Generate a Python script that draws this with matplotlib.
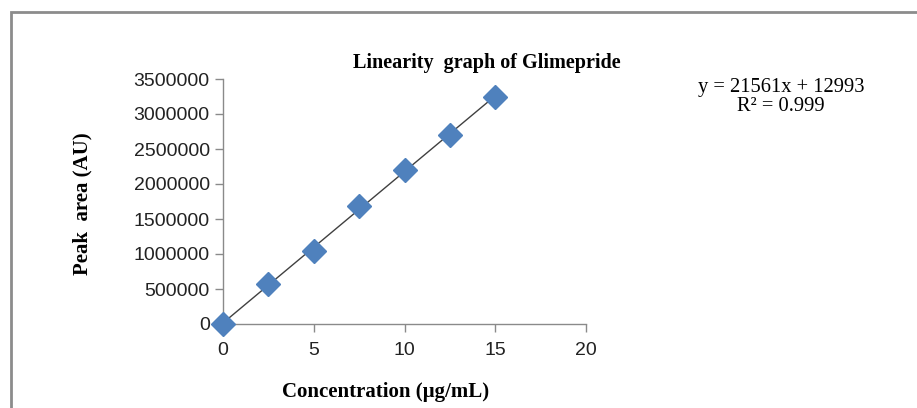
import numpy as np
import matplotlib
matplotlib.use("Agg")
import matplotlib.pyplot as plt
from matplotlib.patches import Rectangle

conc = [0, 2.5, 5, 7.5, 10, 12.5, 15]
peak_area = [0, 575000, 1046000, 1692000, 2201000, 2697000, 3248000]
x_ticks = [0, 5, 10, 15, 20]
y_ticks = [0, 500000, 1000000, 1500000, 2000000, 2500000, 3000000, 3500000]
title = "Linearity  graph of Glimepride"
xlabel = "Concentration (µg/mL)"
ylabel = "Peak  area (AU)"
eq_text = "y = 21561x + 12993\nR² = 0.999"

W, H = 917, 408
fig = plt.figure(figsize=(W / 100, H / 100), dpi=100)
fig.patch.set_facecolor("white")

# outer chart border (only top and left visible)
fig.add_artist(Rectangle((10.5 / W, -0.1), 1.2, (H - 11.5) / H + 0.1,
                         transform=fig.transFigure, fill=False,
                         edgecolor="#8c8c8c", linewidth=2.0))

ax = fig.add_axes([223 / W, (H - 324) / H, (586 - 223) / W, (324 - 79) / H])
ax.set_xlim(0, 20)
ax.set_ylim(0, 3500000)
ax.set_xticks(x_ticks)
ax.set_yticks(y_ticks)
ax.set_xticklabels([str(v) for v in x_ticks])
ax.set_yticklabels([str(v) for v in y_ticks])

for s in ["top", "right"]:
    ax.spines[s].set_visible(False)
for s in ["left", "bottom"]:
    ax.spines[s].set_color("#8a8a8a")
    ax.spines[s].set_linewidth(1.0)
ax.tick_params(axis="both", direction="out", length=6, width=1.0, color="#8a8a8a",
               labelsize=14, labelcolor="#222222")
ax.tick_params(axis="x", pad=7)
ax.tick_params(axis="y", pad=3.5)
for lab in ax.get_xticklabels() + ax.get_yticklabels():
    lab.set_family("Liberation Sans")

# trendline from data
c = np.array(conc)
p = np.array(peak_area)
m, b = np.polyfit(c, p, 1)
xl = np.array([min(conc), max(conc)])
ax.plot(xl, m * xl + b, color="#404040", linewidth=1.0, zorder=2)
ax.plot(conc, peak_area, linestyle="none", marker="D", markersize=12.5,
        markerfacecolor="#4f81bd", markeredgecolor="#4f81bd", zorder=3, clip_on=False)

fig.text(487 / W, 1 - 63 / H, title, ha="center", va="center",
         family="Liberation Serif", fontweight="bold", fontsize=14.5)
fig.text(386 / W, 1 - 392 / H, xlabel, ha="center", va="center",
         family="Liberation Serif", fontweight="bold", fontsize=15)
fig.text(82 / W, 1 - 204 / H, ylabel, ha="center", va="center", rotation=90,
         family="Liberation Serif", fontweight="bold", fontsize=15)
fig.text(781 / W, 1 - 97 / H, eq_text, ha="center", va="center",
         family="Liberation Serif", fontsize=14.8, linespacing=1.0)

fig.savefig("out.png", dpi=100, facecolor="white")
